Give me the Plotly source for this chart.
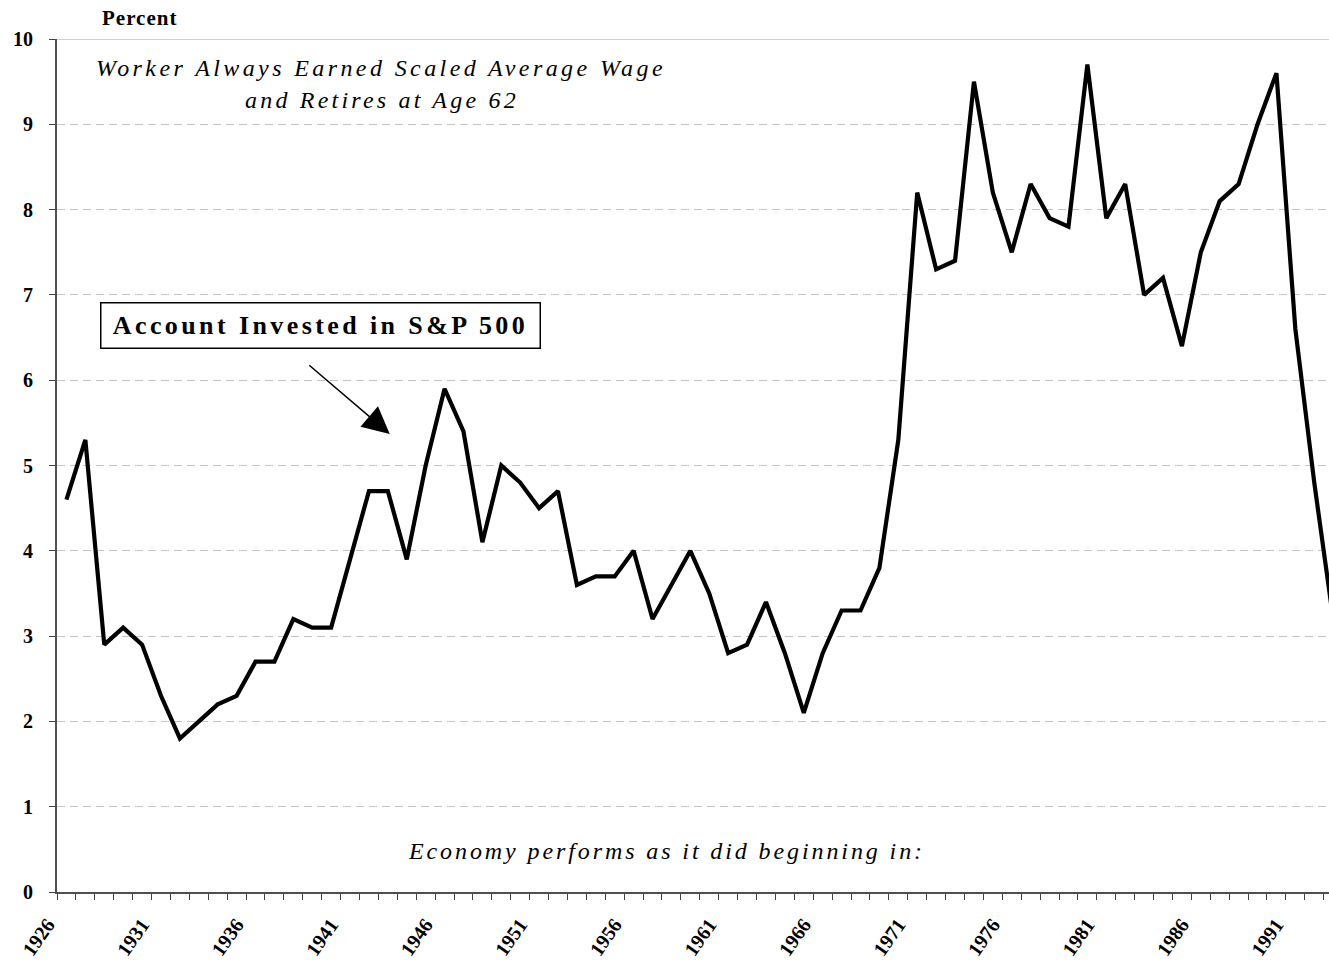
import plotly.graph_objects as go

# ---- data ----
years = list(range(1926, 1994))
values = [
    4.6, 5.3, 2.9, 3.1, 2.9, 2.3, 1.8, 2.0, 2.2, 2.3,   # 1926-1935
    2.7, 2.7, 3.2, 3.1, 3.1, 3.9, 4.7, 4.7, 3.9, 5.0,   # 1936-1945
    5.9, 5.4, 4.1, 5.0, 4.8, 4.5, 4.7, 3.6, 3.7, 3.7,   # 1946-1955
    4.0, 3.2, 3.6, 4.0, 3.5, 2.8, 2.9, 3.4, 2.8, 2.1,   # 1956-1965
    2.8, 3.3, 3.3, 3.8, 5.3, 8.2, 7.3, 7.4, 9.5, 8.2,   # 1966-1975
    7.5, 8.3, 7.9, 7.8, 9.7, 7.9, 8.3, 7.0, 7.2, 6.4,   # 1976-1985
    7.5, 8.1, 8.3, 9.0, 9.6, 6.6, 4.8, 3.2,             # 1986-1993
]
tick_years = list(range(1926, 1992, 5))
tick_labels = [str(y) for y in tick_years]
y_ticks = list(range(0, 11))
y_labels = [str(v) for v in y_ticks]

FONT = "Liberation Serif"

def spaced(text, px):
    return f'<span style="letter-spacing:{px}px">{text}</span>'

fig = go.Figure()
fig.add_trace(go.Scatter(
    x=years, y=values, mode="lines",
    line=dict(color="black", width=4.2),
    hoverinfo="skip", showlegend=False,
))

fig.update_layout(
    width=1329, height=964,
    margin=dict(l=57, r=0, t=39, b=72, pad=0, autoexpand=False),
    paper_bgcolor="white", plot_bgcolor="white",
    showlegend=False,
    xaxis=dict(
        range=[1925.5, 1992.78],
        tickmode="array", tickvals=tick_years, ticktext=tick_labels,
        tickangle=-55,
        ticks="",
        minor=dict(ticks="outside", tick0=1925.5, dtick=1, ticklen=6,
                   tickcolor="#404040", tickwidth=1.2, showgrid=False),
        tickfont=dict(family=FONT, size=20, color="black", weight="bold"),
        ticklabelshift=-19, ticklabelstandoff=11,
        showline=True, linecolor="#505050", linewidth=2,
        showgrid=False, zeroline=False, automargin=False,
    ),
    yaxis=dict(
        range=[0, 10],
        tickmode="array", tickvals=y_ticks, ticktext=y_labels,
        ticks="outside", ticklen=6, tickcolor="#404040", tickwidth=1.2,
        tickfont=dict(family=FONT, size=20, color="black", weight="bold"),
        ticklabelstandoff=12,
        showline=True, linecolor="#505050", linewidth=2,
        showgrid=True, gridcolor="#c4c4c4", gridwidth=1, griddash="8px,5px",
        zeroline=False, automargin=False,
    ),
)

# top border of plot area
fig.add_shape(type="line", xref="paper", yref="y", x0=0, x1=1, y0=10, y1=10,
              line=dict(color="#c0c0c0", width=1.5))

annos = [
    dict(xref="paper", yref="paper", x=(100 - 57) / 1272, y=(892 - 18) / 853,
         xanchor="left", yanchor="middle", showarrow=False,
         text="<b>" + spaced("Percent", 1) + "</b>",
         font=dict(family=FONT, size=21, color="black")),
    dict(xref="paper", yref="paper", x=(381 - 57) / 1272, y=(892 - 68) / 853,
         xanchor="center", yanchor="middle", showarrow=False,
         text="<i>" + spaced("Worker Always Earned Scaled Average Wage", 3.4) + "</i>",
         font=dict(family=FONT, size=24, color="black")),
    dict(xref="paper", yref="paper", x=(382 - 57) / 1272, y=(892 - 100) / 853,
         xanchor="center", yanchor="middle", showarrow=False,
         text="<i>" + spaced("and Retires at Age 62", 3.2) + "</i>",
         font=dict(family=FONT, size=24, color="black")),
    dict(xref="paper", yref="paper", x=(666 - 57) / 1272, y=(892 - 851) / 853,
         xanchor="center", yanchor="middle", showarrow=False,
         text="<i>" + spaced("Economy performs as it did beginning in:", 2.9) + "</i>",
         font=dict(family=FONT, size=24, color="black")),
    dict(xref="paper", yref="paper", x=(320 - 57) / 1272, y=(892 - 325) / 853,
         xanchor="center", yanchor="middle", showarrow=False,
         text="<b>" + spaced("Account Invested in S&amp;P 500", 3.4) + "</b>",
         font=dict(family=FONT, size=26, color="black"),
         width=428, height=34, borderpad=5, bordercolor="black",
         borderwidth=1.5, bgcolor="white"),
    dict(xref="x", yref="y", x=1943.1, y=5.37, ax=-82, ay=-70,
         text="", showarrow=True, arrowhead=2, arrowsize=3.6,
         arrowwidth=1.5, arrowcolor="black", standoff=0),
]
fig.update_layout(annotations=annos)

# remove the default 8px page margin so the figure fills the window exactly
fig.write_html("out.html",
               config={"displayModeBar": False},
               post_script="document.body.style.margin='0px';")
